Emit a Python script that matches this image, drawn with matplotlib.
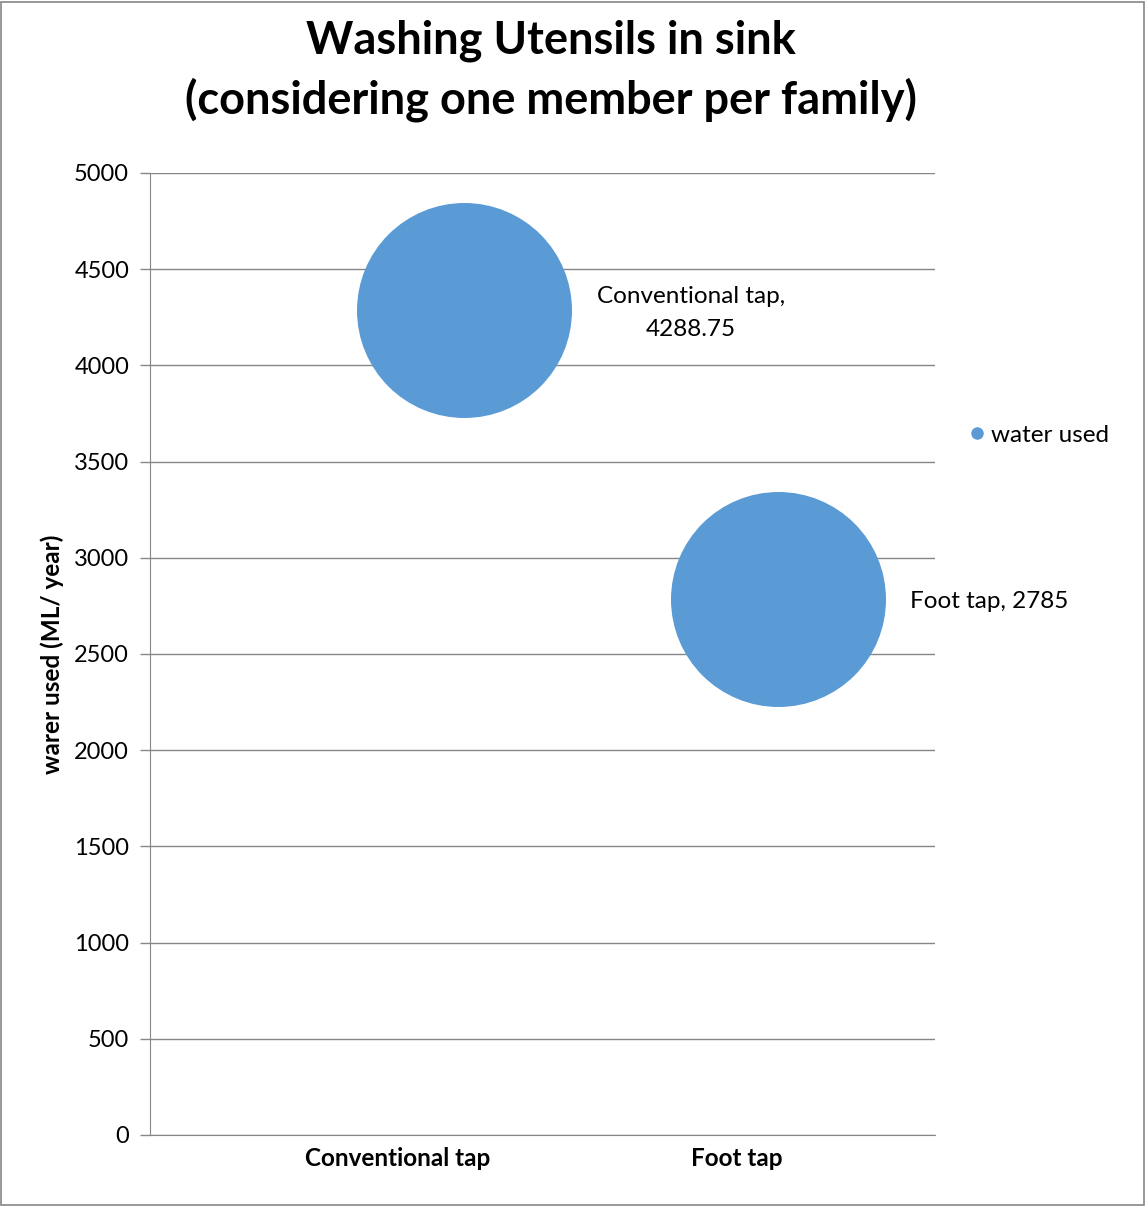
import matplotlib
matplotlib.use("Agg")
import matplotlib.pyplot as plt
from matplotlib.patches import Rectangle
from matplotlib.lines import Line2D

plt.rcParams['font.family'] = ['Lato', 'DejaVu Sans']

categories = ["Conventional tap", "Foot tap"]
x_pos = [1, 2]
values = [4288.75, 2785]
label_texts = ["Conventional tap,\n4288.75", "Foot tap, 2785"]
series_name = "water used"
cat_tick_pos = [0.79, 1.87]
yticks = [0, 500, 1000, 1500, 2000, 2500, 3000, 3500, 4000, 4500, 5000]

color = "#5B9BD5"
grid_c = "#868686"

fig = plt.figure(figsize=(11.46, 12.06), dpi=100)
fig.patches.append(Rectangle((0.001, 0.001), 0.997, 0.997, transform=fig.transFigure,
                             fill=False, edgecolor="#868686", linewidth=1.2))
ax = fig.add_axes([0.1309, 0.0589, 0.685, 0.7977])

diam_pt = 215 * 72 / 100
ax.scatter(x_pos, values, s=diam_pt ** 2, color=color, zorder=3, label=series_name,
           linewidths=0)

ax.set_xlim(0, 2.5)
ax.set_ylim(0, 5000)
ax.set_yticks(yticks)
ax.set_yticklabels([str(v) for v in yticks], fontsize=17)
ax.set_xticks(cat_tick_pos)
ax.set_xticklabels(categories, fontsize=17.5, fontweight='bold')
ax.tick_params(axis='x', length=0, pad=9)
ax.tick_params(axis='y', length=7, width=1, color=grid_c, pad=8)
ax.grid(axis='y', color=grid_c, linewidth=1, zorder=0)
for s in ['top', 'right']:
    ax.spines[s].set_visible(False)
ax.spines['left'].set_color(grid_c)
ax.spines['bottom'].set_color(grid_c)

# data labels
ax.annotate(label_texts[0], (x_pos[0], values[0]), xytext=(227, -3), textcoords='offset pixels',
            ha='center', va='center', fontsize=17.5, linespacing=1.7)
ax.annotate(label_texts[1], (x_pos[1], values[1]), xytext=(132, -2), ha='left', textcoords='offset pixels',
            va='center', fontsize=17.5)

ax.set_ylabel("warer used (ML/ year)", fontsize=17.5, fontweight='bold', labelpad=7)

fig.text(0.481, 0.984, "Washing Utensils in sink\n(considering one member per family)",
         ha='center', va='top', fontsize=32.5, fontweight='bold', linespacing=1.42)

handle = Line2D([], [], linestyle='none', marker='o', markersize=9, color=color,
                markeredgewidth=0)
leg = fig.legend(handles=[handle], labels=[series_name], loc='center left',
                 bbox_to_anchor=(0.847, 0.639), frameon=False, fontsize=17.5,
                 handlelength=0.5, handletextpad=0.35, borderaxespad=0, borderpad=0)

fig.savefig("out.png", dpi=100)
